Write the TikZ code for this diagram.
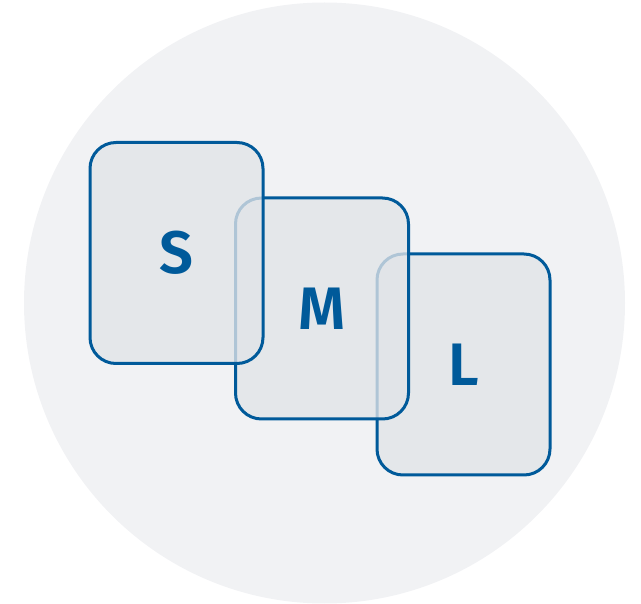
\documentclass[tikz,border=0pt]{standalone}
\usepackage{fontspec}
\newfontfamily\labfont{Fira Sans SemiBold}
\definecolor{bgcirc}{HTML}{F1F2F4}
\definecolor{cardfill}{HTML}{E1E4E8}
\definecolor{cardblue}{HTML}{005A9A}
\tikzset{
  card/.style={rectangle, draw=cardblue, line width=3pt, rounded corners=26pt,
    fill=cardfill, fill opacity=0.78, draw opacity=1, text opacity=1,
    minimum width=173pt, minimum height=221pt, inner sep=0pt,
    text=cardblue, font=\labfont\fontsize{60}{60}\selectfont},
}
\begin{document}
\begin{tikzpicture}[x=1pt,y=-1pt]
\useasboundingbox (0,0) rectangle (641,604);
\fill[bgcirc] (324.5,303) circle (300.5pt);
\node[card] (L) at (463.5,364.5) {L};
\node[card] (M) at (322,308.5) {M};
\node[card] (S) at (176.5,253) {S};
\end{tikzpicture}
\end{document}
